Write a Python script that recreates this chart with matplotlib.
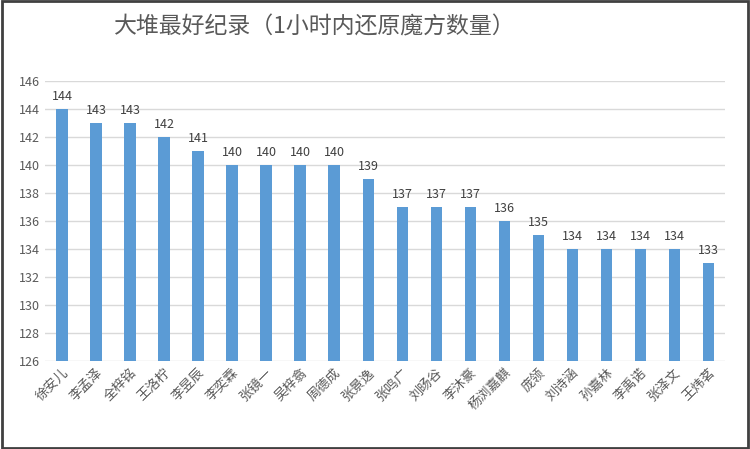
import numpy as np
import matplotlib.pyplot as plt
from matplotlib.patches import Rectangle

plt.rcParams['font.family'] = ['Noto Sans CJK SC', 'DejaVu Sans']

# 数据
names = ['徐安儿', '李孟泽', '全梓铭', '王洛柠', '李昱辰', '李奕霖', '张镜一', '吴梓翕',
         '周德成', '张景逸', '张鸣广', '刘旸谷', '李沐豪', '杨浏嘉麒', '庞领', '刘诗涵',
         '孙嘉林', '李禹诺', '张泽文', '王炜茗']
scores = [144, 143, 143, 142, 141, 140, 140, 140, 140, 139,
          137, 137, 137, 136, 135, 134, 134, 134, 134, 133]
yticks = [126, 128, 130, 132, 134, 136, 138, 140, 142, 144, 146]

fig = plt.figure(figsize=(7.5, 4.49), dpi=100)
ax = fig.add_axes([0.06, 0.196, 0.907, 0.624])

x = np.arange(len(names))
ax.bar(x, scores, width=0.33, color='#5B9BD5', zorder=3)
for xi, v in zip(x, scores):
    ax.text(xi, v + 0.4, str(v), ha='center', va='bottom', fontsize=9, color='#404040')

ax.set_ylim(126, 146)
ax.set_xlim(-0.5, len(names) - 0.5)
ax.set_yticks(yticks)
ax.yaxis.grid(True, color='#D9D9D9', linewidth=1, zorder=0)
for s in ax.spines.values():
    s.set_visible(False)
ax.tick_params(axis='both', length=0, labelsize=9, labelcolor='#595959')
ax.set_xticks(x)
ax.set_xticklabels(names, rotation=45, ha='right', rotation_mode='anchor', fontsize=9.5)

fig.text(0.42, 0.94, '大堆最好纪录（1小时内还原魔方数量）', ha='center', va='center',
         fontsize=16.5, color='#595959', fontweight='medium')

# 外框
fig.patches.append(Rectangle((0.002, 0.003), 0.995, 0.994, transform=fig.transFigure,
                             fill=False, edgecolor='#404040', linewidth=2))

fig.savefig('out.png', dpi=100)
